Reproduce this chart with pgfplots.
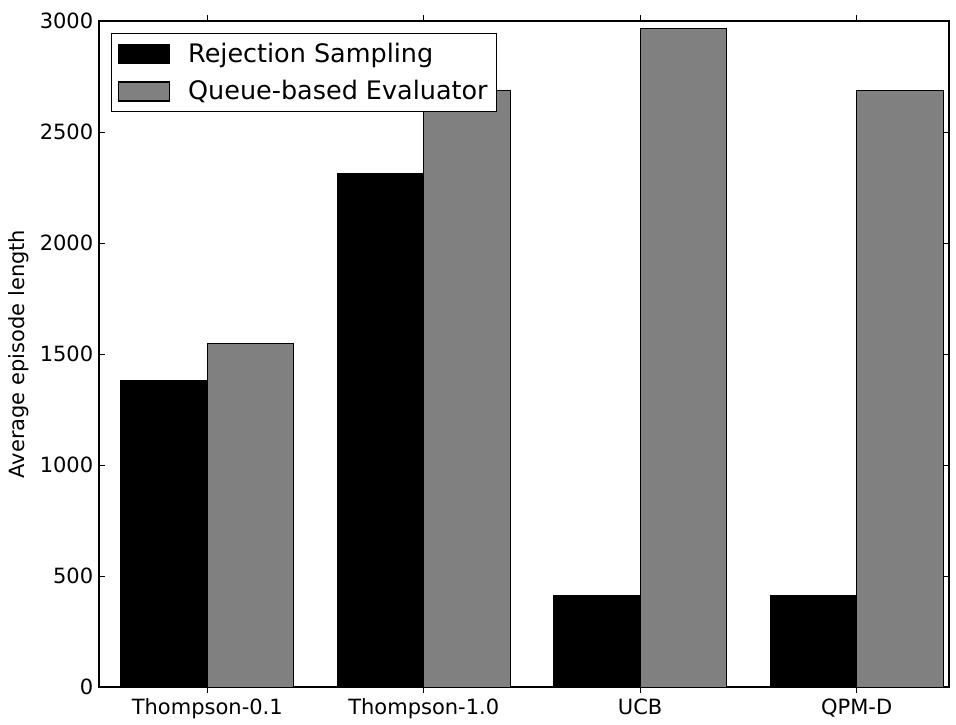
\documentclass[border=0pt]{standalone}
\usepackage{pgfplots}
\pgfplotsset{compat=1.18}
\usepackage{fontspec}
\setmainfont{DejaVu Sans}
\pgfplotsset{mylegend/.style={legend image code/.code={\draw[##1, line width=0.8pt] (2pt,-5.75pt) rectangle (32.8pt,5.75pt); \path (42pt,0pt);}}}
\begin{document}
\begin{tikzpicture}
\begin{axis}[
  scale only axis,
  width=514pt, height=402.8pt,
  xmin=-0.5, xmax=3.427,
  ymin=0, ymax=3000,
  ytick={0,500,1000,1500,2000,2500,3000},
  xtick={0,1,2,3},
  xticklabels={Thompson-0.1,Thompson-1.0,UCB,QPM-D},
  /pgf/number format/assume math mode=true,
  /pgf/number format/1000 sep={},
  tick label style={font=\fontsize{12.7}{15}\selectfont},
  tick align=inside,
  tick pos=both,
  major tick length=3.5pt,
  tick style={black, line width=0.5pt},
  axis line style={line width=0.8pt},
  ylabel={Average episode length},
  ylabel style={font=\fontsize{12.7}{15}\selectfont, at={(axis description cs:-0.0941,0.5)}, anchor=center},
  ybar,
  bar width=0.4,
  legend style={at={(axis description cs:0,1)}, anchor=north west, xshift=7.3pt, yshift=-7.3pt,
    draw=black, line width=0.8pt, font=\fontsize{15.4}{18}\selectfont, inner xsep=3.5pt, inner ysep=3.7pt,
    row sep=5.4pt, nodes={inner sep=2pt}},
  legend cell align=left,
]
\addplot[fill=black, draw=black, line width=0.6pt, bar shift=-0.2, mylegend]
  coordinates {(0,1383) (1,2311) (2,414) (3,412)};
\addplot[fill=gray, draw=black, line width=0.6pt, bar shift=0.2, mylegend]
  coordinates {(0,1547) (1,2685) (2,2964) (3,2686)};
\legend{Rejection Sampling, Queue-based Evaluator}
\end{axis}
\path (current axis.south west) ++(-59.9pt,-19.4pt) coordinate (bl);
\path (current axis.north east) ++(4.2pt,12.7pt) coordinate (tr);
\useasboundingbox (bl) rectangle (tr);
\end{tikzpicture}
\end{document}
